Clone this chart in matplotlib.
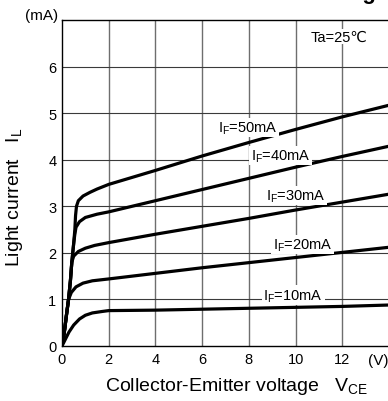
import matplotlib
matplotlib.use("Agg")
import matplotlib.pyplot as plt

plt.rcParams["font.family"] = ["Liberation Sans", "DejaVu Sans"]
plt.rcParams["mathtext.fontset"] = "custom"
plt.rcParams["mathtext.rm"] = "Liberation Sans"

# ---- data (V_CE in V, I_L in mA) ----
vce_10 = [0, 0.15, 0.3, 0.5, 0.75, 1.0, 1.3, 1.7, 2, 4, 6, 8, 10, 12, 14]
il_10 = [0, 0.15, 0.3, 0.45, 0.58, 0.66, 0.71, 0.74, 0.76, 0.77, 0.79, 0.81, 0.83, 0.85, 0.88]

vce_20 = [0, 0.1, 0.2, 0.28, 0.4, 0.6, 0.9, 1.3, 2, 4, 6, 8, 10, 12, 14]
il_20 = [0, 0.3, 0.7, 1.0, 1.15, 1.27, 1.35, 1.4, 1.44, 1.56, 1.68, 1.79, 1.9, 2.01, 2.12]

vce_30 = [0, 0.1, 0.2, 0.28, 0.36, 0.42, 0.5, 0.7, 1.0, 1.4, 2, 4, 6, 8, 10, 12, 14]
il_30 = [0, 0.3, 0.7, 1.0, 1.4, 1.8, 1.93, 2.03, 2.1, 2.16, 2.22, 2.4, 2.57, 2.74, 2.92, 3.09, 3.26]

vce_40 = [0, 0.1, 0.2, 0.28, 0.36, 0.42, 0.5, 0.55, 0.6, 0.75, 1.0, 1.5, 2, 4, 6, 8, 10, 12, 14]
il_40 = [0, 0.3, 0.7, 1.0, 1.4, 1.8, 2.2, 2.4, 2.55, 2.67, 2.76, 2.83, 2.88, 3.12, 3.36, 3.6, 3.84, 4.07, 4.29]

vce_50 = [0, 0.1, 0.2, 0.28, 0.36, 0.42, 0.5, 0.55, 0.58, 0.62, 0.7, 0.9, 1.2, 1.5, 2, 4, 6, 8, 10, 12, 14]
il_50 = [0, 0.3, 0.7, 1.0, 1.4, 1.8, 2.2, 2.5, 2.8, 3.0, 3.12, 3.22, 3.3, 3.37, 3.47, 3.77, 4.08, 4.37, 4.65, 4.92, 5.17]

curves = [(vce_10, il_10), (vce_20, il_20), (vce_30, il_30), (vce_40, il_40), (vce_50, il_50)]

labels = [r"I$_{\mathrm{F}}$=10mA", r"I$_{\mathrm{F}}$=20mA", r"I$_{\mathrm{F}}$=30mA",
          r"I$_{\mathrm{F}}$=40mA", r"I$_{\mathrm{F}}$=50mA"]
label_x = [9.9, 10.3, 10.0, 9.35, 7.95]
label_y = [1.09, 2.18, 3.23, 4.09, 4.69]

x_ticks = [0, 2, 4, 6, 8, 10, 12]
y_ticks = [0, 1, 2, 3, 4, 5, 6]

fig = plt.figure(figsize=(3.88, 4.02), dpi=100)
ax = fig.add_axes([62 / 388, 55 / 402, 327 / 388, 326 / 402])
ax.set_xlim(0, 14)
ax.set_ylim(0, 7)

# grid
for xv in range(2, 14, 2):
    ax.axvline(xv, color="#6e6e6e", lw=1.0, zorder=1)
for yv in range(1, 7):
    ax.axhline(yv, color="#3a3a3a", lw=0.8, zorder=1)

for xs, ys in curves:
    ax.plot(xs, ys, color="black", lw=2.3, solid_capstyle="round", zorder=3)

for txt, lx, ly in zip(labels, label_x, label_y):
    ax.text(lx, ly, txt, ha="center", va="center", fontsize=10.5, zorder=4,
            bbox=dict(facecolor="white", edgecolor="none", pad=1.0))

ax.text(11.85, 6.64, "Ta=25℃", ha="center", va="center", fontsize=10.5, zorder=4,
        bbox=dict(facecolor="white", edgecolor="none", pad=0.5))

ax.set_xticks(x_ticks)
ax.set_yticks(y_ticks)
ax.tick_params(length=0, labelsize=10.5, pad=4)
for s in ax.spines.values():
    s.set_color("black")
    s.set_linewidth(1.0)

ax.text(13.55, -0.31, "(V)", ha="center", va="center", fontsize=11, clip_on=False)
ax.text(-0.86, 7.11, "(mA)", ha="center", va="center", fontsize=11, clip_on=False)

fig.text(237 / 388, 1 - 387 / 402, r"Collector-Emitter voltage   V$_{\mathrm{CE}}$",
         ha="center", va="center", fontsize=14)
fig.text(15 / 388, 1 - 197 / 402, r"Light current   I$_{\mathrm{L}}$",
         ha="center", va="center", fontsize=14, rotation=90)

# title is cut off by the top edge in the reference
fig.text(1.0, 1.0 + 1 / 402, "Light current vs. Collector-emitter voltage",
         ha="right", va="baseline", fontsize=16, fontweight="bold")

fig.savefig("out.png", dpi=100)
